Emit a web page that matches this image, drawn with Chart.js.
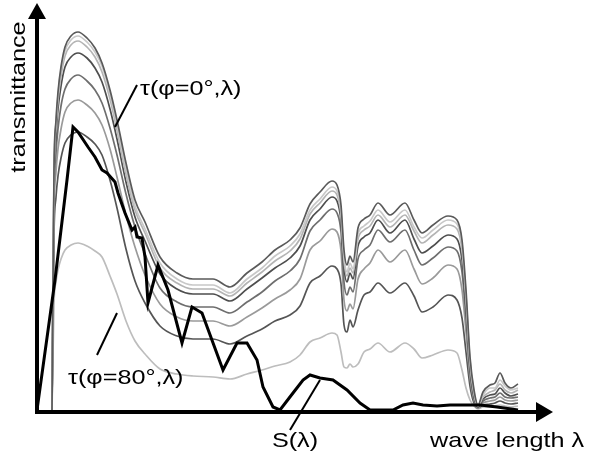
<!DOCTYPE html>
<html>
<head>
<meta charset="utf-8">
<script src="https://cdn.jsdelivr.net/npm/chart.js@4/dist/chart.umd.min.js"></script>
<style>
  html, body { margin: 0; padding: 0; background: #fff; }
  #wrap { width: 598px; height: 469px; }
</style>
</head>
<body>
<div id="wrap"><canvas id="transChart" width="598" height="469"></canvas></div>
<script>
// --- data (wave length and transmittance in arbitrary units) ---
const waveLength = [17, 19, 21, 23, 26, 30, 36, 43, 52, 60, 67, 75, 82, 91, 100, 110,
    125, 142, 158, 178, 195, 212, 227, 240, 255, 265, 275, 285, 297, 302, 306, 309,
    312, 315, 318, 323, 329, 335, 343, 355, 370, 379, 387, 398, 413, 422, 427, 431,
    435, 439, 443, 448, 455, 460, 465, 470, 476, 483];

const phiAngles = [0, 20, 30, 40, 50, 60, 70, 80];

const tauPhi0 = [0, 240, 290, 318, 343, 363, 374, 378, 372, 362, 347, 320, 290, 247, 210, 188,
    153, 137, 131, 131, 123, 137, 148, 160, 170, 182, 206, 218, 229, 225, 205, 160,
    145, 154, 148, 182, 191, 195, 207, 195, 207, 190, 177, 185, 194, 190, 170, 120,
    53, 20, 5, 18, 25, 27, 37, 27, 22, 26];
const tauPhi20 = [0, 238, 287, 315, 340, 359, 370, 374, 368, 358, 344, 316, 285, 241, 204, 181,
    147, 131, 125, 125, 117, 131, 142, 154, 164, 176, 200, 211, 223, 219, 199, 154,
    138, 147, 141, 176, 184, 189, 200, 188, 200, 183, 172, 180, 190, 186, 165, 115,
    50, 18, 4, 15, 22, 22, 30, 24, 20, 22];
const tauPhi30 = [0, 234, 283, 310, 334, 354, 365, 369, 363, 353, 338, 311, 280, 236, 200, 177,
    142, 127, 121, 121, 114, 127, 138, 149, 159, 171, 196, 207, 219, 215, 195, 149,
    134, 142, 137, 171, 180, 184, 195, 183, 195, 179, 167, 175, 185, 181, 160, 110,
    47, 16, 4, 13, 18, 20, 26, 20, 17, 20];
const tauPhi40 = [0, 227, 274, 301, 324, 343, 353, 357, 352, 342, 328, 301, 271, 228, 193, 169,
    136, 121, 116, 116, 109, 121, 132, 142, 152, 164, 190, 201, 213, 209, 189, 142,
    128, 137, 131, 164, 173, 177, 190, 177, 190, 171, 157, 164, 175, 171, 150, 102,
    43, 14, 3, 11, 15, 16, 22, 17, 14, 16];
const tauPhi50 = [0, 212, 257, 281, 304, 321, 331, 335, 329, 320, 307, 282, 255, 216, 183, 156,
    122, 108, 103, 103, 97, 108, 118, 129, 139, 151, 179, 190, 201, 197, 178, 128,
    115, 123, 118, 151, 160, 165, 180, 168, 180, 160, 145, 152, 163, 159, 138, 92,
    38, 12, 3, 9, 12, 13, 17, 13, 12, 13];
const tauPhi60 = [0, 197, 238, 261, 281, 298, 307, 310, 305, 297, 285, 261, 233, 195, 163, 135,
    106, 93, 89, 89, 84, 93, 102, 111, 120, 131, 160, 169, 181, 178, 159, 110,
    99, 106, 101, 131, 141, 147, 160, 148, 160, 141, 126, 132, 145, 141, 120, 78,
    32, 10, 2, 7, 9, 10, 13, 10, 9, 10];
const tauPhi70 = [0, 176, 213, 234, 252, 267, 275, 278, 273, 266, 255, 230, 202, 161, 129, 107,
    84, 74, 71, 71, 66, 74, 81, 89, 95, 104, 127, 134, 144, 141, 126, 85,
    78, 90, 83, 100, 115, 118, 127, 117, 127, 114, 98, 103, 115, 110, 92, 58,
    24, 7, 2, 5, 6, 7, 9, 7, 6, 7];
const tauPhi80 = [0, 106, 128, 140, 151, 160, 165, 167, 164, 159, 153, 134, 116, 89, 69, 56,
    41, 36, 34, 33, 31, 36, 40, 44, 48, 55, 68, 72, 77, 75, 58, 43,
    42, 46, 43, 46, 58, 61, 67, 58, 67, 61, 52, 55, 60, 57, 40, 22,
    10, 4, 1, 3, 3, 4, 5, 4, 3, 4];

// solar spectrum S(lambda)
const sWaveLength = [2, 20, 32, 38, 43, 53, 60, 67, 72, 80, 83, 90, 97, 100, 102, 107,
    110, 113, 123, 133, 147, 157, 167, 188, 202, 212, 222, 228, 238, 245, 258, 268,
    275, 285, 298, 312, 325, 335, 358, 368, 378, 388, 402, 415, 435, 445, 462, 483];
const sValues = [0, 130, 230, 283, 278, 263, 253, 240, 237, 228, 217, 197, 180, 183, 173, 172,
    153, 107, 145, 120, 67, 103, 97, 40, 67, 67, 50, 23, 3, 0, 17, 30,
    35, 32, 30, 20, 7, 0, 0, 5, 7, 5, 4, 5, 5, 5, 3, 0];

const tauSeries = [tauPhi0, tauPhi20, tauPhi30, tauPhi40, tauPhi50, tauPhi60, tauPhi70, tauPhi80];
const tauColors = ['#5a5a5a', '#c8c8c8', '#b4b4b4', '#4e4e4e', '#6e6e6e', '#9a9a9a', '#555555', '#bdbdbd'];

const LABEL_FONT = "21px 'Liberation Sans', Arial, sans-serif";
const STRETCH = 1.2;

function toPoints(xs, ys) {
    return xs.map((x, i) => ({ x: x, y: ys[i] }));
}

// --- axes with arrows, labels and leader lines ---
const annotatePlugin = {
    id: 'annotate',
    afterDatasetsDraw(chart) {
        const ctx = chart.ctx;
        const area = chart.chartArea;
        const xs = chart.scales.x, ys = chart.scales.y;
        const px = v => xs.getPixelForValue(v);
        const py = v => ys.getPixelForValue(v);

        ctx.save();
        ctx.fillStyle = '#000';
        ctx.strokeStyle = '#000';

        // y axis
        ctx.lineWidth = 4;
        ctx.beginPath();
        ctx.moveTo(area.left + 2, area.bottom + 4);
        ctx.lineTo(area.left + 2, area.top + 6);
        ctx.stroke();
        ctx.beginPath();
        ctx.moveTo(area.left + 2, area.top - 7);
        ctx.lineTo(area.left - 7, area.top + 9);
        ctx.lineTo(area.left + 11, area.top + 9);
        ctx.closePath();
        ctx.fill();

        // x axis
        ctx.beginPath();
        ctx.moveTo(area.left, area.bottom + 2);
        ctx.lineTo(area.right - 10, area.bottom + 2);
        ctx.stroke();
        ctx.beginPath();
        ctx.moveTo(area.right + 1, area.bottom + 2);
        ctx.lineTo(area.right - 16, area.bottom - 8);
        ctx.lineTo(area.right - 16, area.bottom + 12);
        ctx.closePath();
        ctx.fill();

        // leader lines
        ctx.lineWidth = 2;
        const leaders = [
            [102, 325, 80, 283],   // tau(phi=0)
            [62, 55, 82, 97],      // tau(phi=80)
            [255, -20, 285, 30]    // S
        ];
        leaders.forEach(l => {
            ctx.beginPath();
            ctx.moveTo(px(l[0]), py(l[1]));
            ctx.lineTo(px(l[2]), py(l[3]));
            ctx.stroke();
        });

        // texts
        ctx.font = LABEL_FONT;
        ctx.textBaseline = 'middle';
        const texts = [
            ['τ(φ=0°,λ)', 105, 321, 'left'],
            ['τ(φ=80°,λ)', 33, 32, 'left'],
            ['S(λ)', 260, -31, 'center'],
            ['wave length λ', 395, -31, 'left']
        ];
        texts.forEach(t => {
            ctx.save();
            ctx.translate(px(t[1]), py(t[2]));
            ctx.scale(STRETCH, 1);
            ctx.textAlign = t[3];
            ctx.fillText(t[0], 0, 0);
            ctx.restore();
        });

        ctx.save();
        ctx.translate(px(-16), py(313));
        ctx.rotate(-Math.PI / 2);
        ctx.scale(STRETCH, 1);
        ctx.textAlign = 'center';
        ctx.fillText('transmittance', 0, 0);
        ctx.restore();

        ctx.restore();
    }
};

document.addEventListener('DOMContentLoaded', function() {
    const ctx = document.getElementById('transChart').getContext('2d');

    const datasets = tauSeries.map((vals, i) => ({
        label: 'τ(φ=' + phiAngles[i] + '°,λ)',
        data: toPoints(waveLength, vals),
        borderColor: tauColors[i],
        borderWidth: 1.7,
        pointRadius: 0,
        cubicInterpolationMode: 'monotone',
        order: 1
    }));
    datasets.push({
        label: 'S(λ)',
        data: toPoints(sWaveLength, sValues),
        borderColor: '#000',
        borderWidth: 3,
        pointRadius: 0,
        tension: 0,
        order: 0
    });

    new Chart(ctx, {
        type: 'line',
        data: { datasets: datasets },
        options: {
            responsive: false,
            animation: false,
            layout: { padding: { left: 35, right: 46, top: 10, bottom: 59 } },
            scales: {
                x: { type: 'linear', min: 0, max: 517, display: false },
                y: { min: 0, max: 400, display: false }
            },
            plugins: {
                legend: { display: false },
                tooltip: { enabled: false }
            }
        },
        plugins: [annotatePlugin]
    });
});
</script>
</body>
</html>
